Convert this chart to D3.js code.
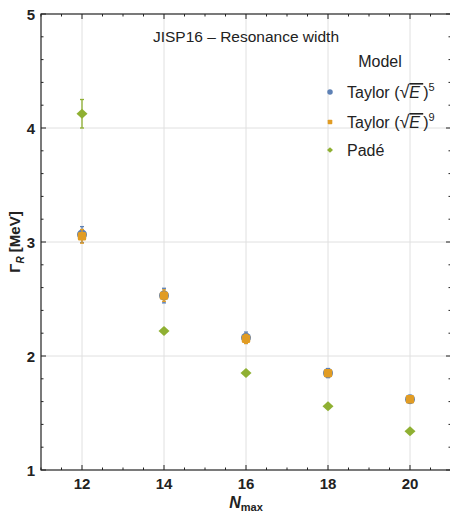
<!DOCTYPE html>
<html><head><meta charset="utf-8">
<script src="https://cdn.jsdelivr.net/npm/d3@7"></script>
<style>body{margin:0;background:#fff}svg{display:block}text{font-family:"Liberation Sans",Arial,sans-serif}</style>
</head><body><svg id="c" width="450" height="515"></svg>
<script>
const nmax = [12, 14, 16, 18, 20];
const taylor5 = [3.065, 2.53, 2.16, 1.85, 1.62];
const taylor5Err = [0.07, 0.064, 0.05, 0.04, 0.03];
const taylor9 = [3.05, 2.53, 2.15, 1.85, 1.62];
const taylor9Err = [0.06, 0.05, 0.04, 0.03, 0.02];
const pade = [4.125, 2.22, 1.85, 1.56, 1.34];
const padeErr = [0.125, 0.01, 0.01, 0.01, 0.01];
const yTicks = [1, 2, 3, 4, 5];
const xTicks = [12, 14, 16, 18, 20];
const seriesNames = ["Taylor5", "Taylor9", "Padé"];
const colors = ["#5E81B5", "#E19C24", "#8FB032"];

const svg = d3.select("#c");
const x = d3.scaleLinear().domain([11, 21]).range([41, 451]);
const y = d3.scaleLinear().domain([1, 5]).range([470, 14]);

// grid
const grid = svg.append("g");
grid.selectAll(".vx").data(xTicks).join("line")
  .attr("x1", d => x(d)).attr("x2", d => x(d)).attr("y1", y(1)).attr("y2", y(5))
  .attr("stroke", "#e0e0e0").attr("stroke-width", 1);
grid.selectAll(".hy").data([2, 3, 4]).join("line")
  .attr("y1", d => y(d)).attr("y2", d => y(d)).attr("x1", x(11)).attr("x2", x(21))
  .attr("stroke", "#e0e0e0").attr("stroke-width", 1);

// axes
const xMinor = d3.range(11, 21.01, 0.5).filter(v => !xTicks.includes(v));
const yMinor = d3.range(1, 5.001, 0.2).map(v => +v.toFixed(1)).filter(v => !yTicks.includes(v));
const ax = svg.append("g").attr("stroke", "#222").attr("stroke-width", 1);
ax.append("rect").attr("x", x(11)).attr("y", y(5)).attr("width", x(21) - x(11)).attr("height", y(1) - y(5))
  .attr("fill", "none").attr("stroke", "#222").attr("stroke-width", 1.2);
function xt(vals, len) {
  ax.selectAll(null).data(vals).join("line")
    .attr("x1", d => x(d)).attr("x2", d => x(d)).attr("y1", y(1)).attr("y2", y(1) - len);
  ax.selectAll(null).data(vals).join("line")
    .attr("x1", d => x(d)).attr("x2", d => x(d)).attr("y1", y(5)).attr("y2", y(5) + len);
}
function yt(vals, len) {
  ax.selectAll(null).data(vals).join("line")
    .attr("y1", d => y(d)).attr("y2", d => y(d)).attr("x1", x(11)).attr("x2", x(11) + len);
  ax.selectAll(null).data(vals).join("line")
    .attr("y1", d => y(d)).attr("y2", d => y(d)).attr("x1", x(21)).attr("x2", x(21) - len);
}
xt(xTicks, 5); xt(xMinor, 2.5); yt(yTicks, 5); yt(yMinor, 2.5);

svg.append("g").selectAll("text").data(xTicks).join("text")
  .attr("x", d => x(d)).attr("y", 489).attr("text-anchor", "middle")
  .attr("font-size", 15).attr("font-weight", "bold").attr("fill", "#222").text(d => d);
svg.append("g").selectAll("text").data(yTicks).join("text")
  .attr("x", 35).attr("y", d => y(d) + 5.5).attr("text-anchor", "end")
  .attr("font-size", 15).attr("font-weight", "bold").attr("fill", "#222").text(d => d);

// axis labels
const yl = svg.append("text").attr("transform", `translate(20,${y(3)}) rotate(-90)`)
  .attr("text-anchor", "middle").attr("font-size", 15).attr("font-weight", "bold").attr("fill", "#222");
yl.append("tspan").text("Γ");
yl.append("tspan").attr("font-size", 10).attr("font-style", "italic").attr("dy", 4).text("R");
yl.append("tspan").attr("dy", -4).text(" [MeV]");
const xl = svg.append("text").attr("x", 246).attr("y", 508).attr("text-anchor", "middle")
  .attr("font-size", 16).attr("font-weight", "bold").attr("fill", "#222");
xl.append("tspan").attr("font-style", "italic").text("N");
xl.append("tspan").attr("font-size", 11).attr("dy", 3).text("max");

// title
svg.append("text").attr("x", 246).attr("y", 42).attr("text-anchor", "middle")
  .attr("font-size", 15.5).attr("fill", "#222").text("JISP16 – Resonance width");

// data
const data = [
  {vals: taylor5, errs: taylor5Err, c: colors[0], shape: "circle"},
  {vals: taylor9, errs: taylor9Err, c: colors[1], shape: "square"},
  {vals: pade, errs: padeErr, c: colors[2], shape: "diamond"}
];
function marker(g, shape, c, cx, cy, s) {
  if (shape === "circle") g.append("circle").attr("cx", cx).attr("cy", cy).attr("r", 5 * s).attr("fill", c);
  else if (shape === "square") g.append("rect").attr("x", cx - 4.2 * s).attr("y", cy - 4.2 * s)
    .attr("width", 8.4 * s).attr("height", 8.4 * s).attr("rx", 1.5 * s).attr("fill", c);
  else g.append("path").attr("d", `M${cx},${cy - 5 * s}L${cx + 5.5 * s},${cy}L${cx},${cy + 5 * s}L${cx - 5.5 * s},${cy}Z`).attr("fill", c);
}
const pg = svg.append("g");
data.forEach(s => {
  s.vals.forEach((v, i) => {
    const cx = x(nmax[i]);
    const e = s.errs[i];
    pg.append("line").attr("x1", cx).attr("x2", cx).attr("y1", y(v - e)).attr("y2", y(v + e))
      .attr("stroke", s.c).attr("stroke-width", 1.3);
    [v - e, v + e].forEach(w => pg.append("line").attr("x1", cx - 2).attr("x2", cx + 2)
      .attr("y1", y(w)).attr("y2", y(w)).attr("stroke", s.c).attr("stroke-width", 1.3));
    marker(pg, s.shape, s.c, cx, y(v), 1);
  });
});

// legend
const lg = svg.append("g");
lg.append("text").attr("x", 380).attr("y", 67).attr("text-anchor", "middle")
  .attr("font-size", 16).attr("fill", "#222").text("Model");
const ly = [92, 122, 150];
const sup = ["5", "9"];
data.forEach((s, i) => {
  marker(lg, s.shape, s.c, 330, ly[i], 0.55);
  const t = lg.append("text").attr("x", 347).attr("y", ly[i] + 6).attr("font-size", 16).attr("fill", "#222");
  if (i < 2) {
    t.append("tspan").text("Taylor (");
    t.append("tspan").attr("font-size", 18).text("√");
    t.append("tspan").attr("font-style", "italic").attr("text-decoration", "overline").text("E\u2009");
    t.append("tspan").text(")");
    t.append("tspan").attr("font-size", 11).attr("dy", -7).text(sup[i]);
  } else {
    t.text("Padé");
  }
});
</script></body></html>
